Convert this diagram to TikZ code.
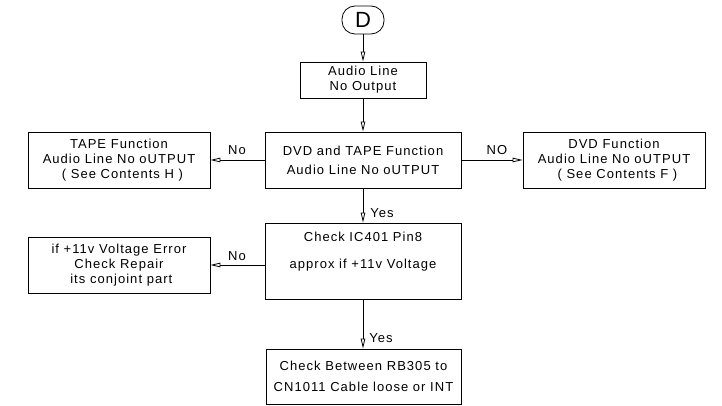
\documentclass[tikz,border=0pt]{standalone}
\usepackage{fontspec}
\setmainfont{Liberation Sans}[LetterSpace=8]
\usetikzlibrary{arrows.meta}
\begin{document}
\begin{tikzpicture}[x=1pt,y=-1pt,
  line width=0.8pt,
  every node/.style={font=\fontsize{13}{15}\selectfont},
  box/.style={draw,rectangle,inner sep=0pt,align=center},
  arr/.style={-{Triangle[open,length=10pt,width=4.5pt]}},
  lab/.style={inner sep=0pt}]
\useasboundingbox (0,0) rectangle (722,406);
% nodes
\node[draw,rounded corners=13pt,minimum width=42pt,minimum height=28pt,inner sep=0pt,font=\fontsize{22}{22}\selectfont] (d) at (363,20) {D};
\node[box,minimum width=126pt,minimum height=36pt] (b1) at (363,80) {Audio Line\\No Output};
\node[box,minimum width=196pt,minimum height=56pt,font=\fontsize{13}{19}\selectfont] (b2) at (363,160) {DVD and TAPE Function\\Audio Line No oUTPUT};
\node[box,minimum width=182pt,minimum height=56pt] (tape) at (119,160) {TAPE Function\\Audio Line No oUTPUT\\\ \,( See Contents H )};
\node[box,minimum width=182pt,minimum height=56pt] (dvd) at (614,160) {DVD Function\\Audio Line No oUTPUT\\\ \,( See Contents F )};
\node[box,minimum width=196pt,minimum height=76pt] (chk) at (363,261) {};
\node[lab] (chk1) at (363,237) {Check IC401 Pin8};
\node[lab] (chk2) at (363,265) {approx if +11v Voltage};
\node[box,minimum width=182pt,minimum height=56pt] (err) at (119,265) {if +11v Voltage Error\\Check Repair\\\ its conjoint part};
\node[box,minimum width=195pt,minimum height=55pt,font=\fontsize{13}{21}\selectfont] (last) at (363.5,376.5) {Check Between RB305 to\\CN1011 Cable loose or INT};
% connectors
\draw[arr] (d) -- (b1);
\draw[arr] (b1) -- (b2);
\draw[arr] (b2) -- (tape);
\draw[arr] (b2) -- (dvd);
\draw[arr] (b2) -- (chk);
\draw[arr] (chk.west |- chk2) -- (err.east |- chk2);
\draw[arr] (chk) -- (last.north -| chk);
% labels
\node[lab] (l1) at (237,150) {No};
\node[lab] (l2) at (497,150) {NO};
\node[lab] (l3) at (382,213) {Yes};
\node[lab] (l4) at (237,256) {No};
\node[lab] (l5) at (381,338) {Yes};
\end{tikzpicture}
\end{document}
